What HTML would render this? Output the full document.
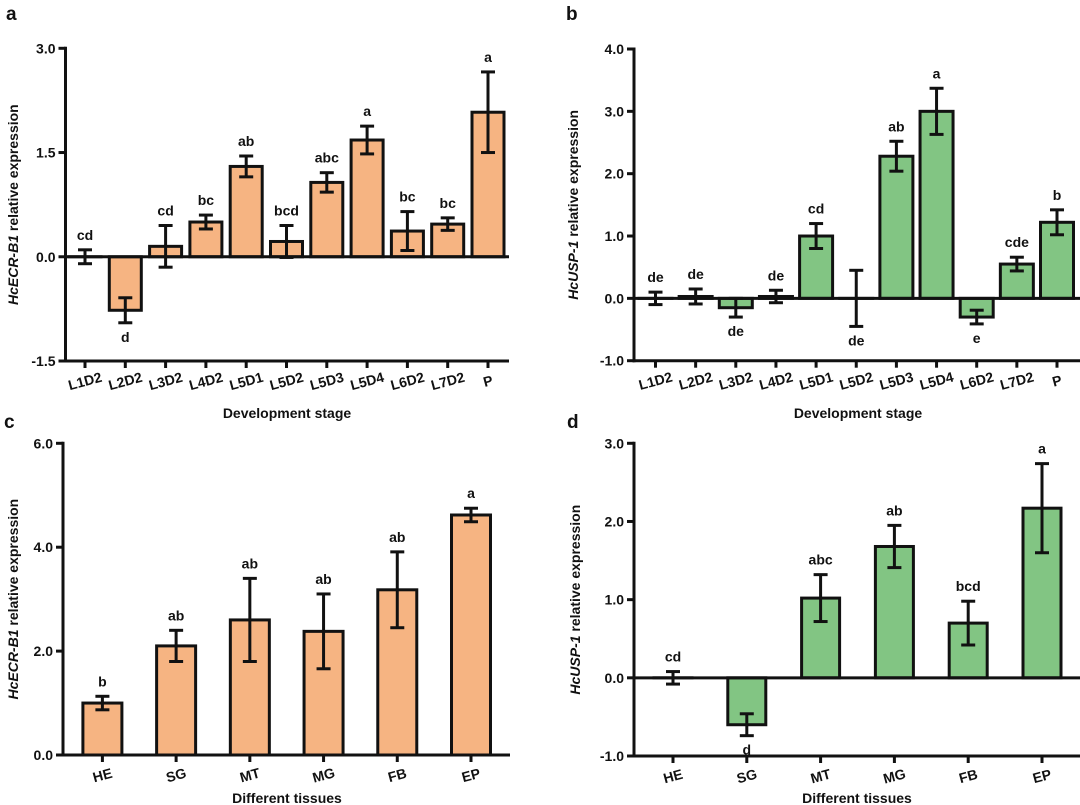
<!DOCTYPE html>
<html><head><meta charset="utf-8">
<style>
html,body{margin:0;padding:0;background:#fff;}
svg{display:block;font-family:"Liberation Sans",Arial,sans-serif;}
</style></head>
<body>
<svg id="fig" width="1080" height="805" viewBox="0 0 1080 805"></svg>
<script>
// ---- data ----
const stagesCats = ["L1D2","L2D2","L3D2","L4D2","L5D1","L5D2","L5D3","L5D4","L6D2","L7D2","P"];
const aValues = [0, -0.77, 0.15, 0.5, 1.3, 0.22, 1.07, 1.68, 0.37, 0.47, 2.08];
const aErrors = [0.1, 0.18, 0.3, 0.1, 0.15, 0.23, 0.14, 0.2, 0.28, 0.09, 0.58];
const aLetters = ["cd","d","cd","bc","ab","bcd","abc","a","bc","bc","a"];
const aBelow = [false,true,false,false,false,false,false,false,false,false,false];
const aTicks = [3.0, 1.5, 0.0, -1.5];

const bValues = [0, 0.03, -0.15, 0.03, 1.0, 0, 2.28, 3.0, -0.3, 0.55, 1.22];
const bErrors = [0.1, 0.12, 0.15, 0.1, 0.2, 0.45, 0.24, 0.37, 0.11, 0.11, 0.2];
const bLetters = ["de","de","de","de","cd","de","ab","a","e","cde","b"];
const bBelow = [false,false,true,false,false,true,false,false,true,false,false];
const bTicks = [4.0, 3.0, 2.0, 1.0, 0.0, -1.0];

const tissueCats = ["HE","SG","MT","MG","FB","EP"];
const cValues = [1.0, 2.1, 2.6, 2.38, 3.18, 4.62];
const cErrors = [0.13, 0.3, 0.8, 0.72, 0.73, 0.13];
const cLetters = ["b","ab","ab","ab","ab","a"];
const cBelow = [false,false,false,false,false,false];
const cTicks = [6.0, 4.0, 2.0, 0.0];

const dValues = [0, -0.6, 1.02, 1.68, 0.7, 2.17];
const dErrors = [0.08, 0.14, 0.3, 0.27, 0.28, 0.57];
const dLetters = ["cd","d","abc","ab","bcd","a"];
const dBelow = [false,true,false,false,false,false];
const dTicks = [3.0, 2.0, 1.0, 0.0, -1.0];

const NS = "http://www.w3.org/2000/svg";
const svg = document.getElementById('fig');
function mk(tag, attrs, parent, text){
  const e = document.createElementNS(NS, tag);
  for (const k in attrs) e.setAttribute(k, attrs[k]);
  if (text !== undefined) e.textContent = text;
  (parent||svg).appendChild(e);
  return e;
}

function panel(cfg){
  const g = mk('g', {});
  
  
  const vmin = cfg.ticks[cfg.ticks.length-1], vmax = cfg.ticks[0];
  const y = v => cfg.yBot + (v - vmin) * (cfg.yTop - cfg.yBot) / (vmax - vmin);
  const n = cfg.cats.length;
  const x = i => cfg.x0 + i * (cfg.x1 - cfg.x0) / (n - 1);
  cfg.values.forEach((v,i)=>{
    const top = Math.min(y(v), y(0)), h = Math.abs(y(v)-y(0));
    const r = mk('rect', {x:x(i)-cfg.bw/2, y:top, width:cfg.bw, height:Math.max(h,0.01), fill:cfg.color, stroke:'#111', 'stroke-width':3}, g);
    
    
  });
  const zl = mk('line', {x1:cfg.axX, x2:cfg.axEnd, y1:y(0), y2:y(0), stroke:'#111','stroke-width':3}, g);
  
  
  cfg.values.forEach((v,i)=>{
    const e = cfg.errors[i], hi = y(v+e), lo = y(v-e), cx = x(i);
    const eg = mk('g', {stroke:'#111','stroke-width':3}, g);
    
    
    mk('line', {x1:cx, x2:cx, y1:hi, y2:lo}, eg);
    mk('line', {x1:cx-7, x2:cx+7, y1:hi, y2:hi}, eg);
    mk('line', {x1:cx-7, x2:cx+7, y1:lo, y2:lo}, eg);
    const ly = cfg.below[i] ? lo + 19 : hi - 10;
    const t = mk('text', {x:cx, y:ly, 'text-anchor':'middle','font-size':14,'font-weight':'bold',fill:'#111'}, g, cfg.letters[i]);
    
    
  });
  const xa = mk('line', {x1:cfg.axX-1.5, x2:cfg.axEnd, y1:cfg.yBot, y2:cfg.yBot, stroke:'#111','stroke-width':3}, g);
  
  
  const ya = mk('line', {x1:cfg.axX, x2:cfg.axX, y1:cfg.yTop-1.5, y2:cfg.yBot+1.5, stroke:'#111','stroke-width':3}, g);
  
  
  cfg.ticks.forEach(tv=>{
    mk('line', {x1:cfg.axX-7, x2:cfg.axX, y1:y(tv), y2:y(tv), stroke:'#111','stroke-width':3}, g);
    const t = mk('text', {x:cfg.axX-10, y:y(tv)+5, 'text-anchor':'end','font-size':14,'font-weight':'bold',fill:'#111'}, g, tv.toFixed(1));
    
    
  });
  cfg.cats.forEach((c,i)=>{
    const cx = x(i);
    mk('line', {x1:cx, x2:cx, y1:cfg.yBot, y2:cfg.yBot+7, stroke:'#111','stroke-width':3}, g);
    const t = mk('text', {x:cx, y:cfg.yBot+25, 'text-anchor':'middle','font-size':14,'font-weight':'bold',fill:'#111',
      transform:`rotate(-15 ${cx} ${cfg.yBot+20})`}, g, c);
    
    
  });
  const xt = mk('text', {x:cfg.xTitleX, y:cfg.xTitleY, 'text-anchor':'middle','font-size':14,'font-weight':'bold',fill:'#111'}, g, cfg.xTitle);
  
  
  const yc = (cfg.yTop + cfg.yBot)/2;
  const yt = mk('text', {x:cfg.yTitleX, y:yc, 'text-anchor':'middle','font-size':14,'font-weight':'bold',fill:'#111',
    transform:`rotate(-90 ${cfg.yTitleX} ${yc})`}, g);
  
  
  mk('tspan', {'font-style':'italic'}, yt, cfg.gene);
  mk('tspan', {}, yt, ' relative expression');
  const pl = mk('text', {x:cfg.letterX, y:cfg.letterY, 'font-size':19,'font-weight':'bold',fill:'#111'}, g, cfg.letter);
  
  
}

const ORANGE = '#f6b482', GREEN = '#82c583';
panel({name:'panel-a', cats:stagesCats, values:aValues, errors:aErrors, letters:aLetters, below:aBelow, ticks:aTicks,
  yTop:48.3, yBot:361, axX:65.5, axEnd:509, x0:85, x1:488, bw:32, color:ORANGE,
  xTitle:'Development stage', xTitleX:287, xTitleY:418, gene:'HcECR-B1', yTitleX:18, letter:'a', letterX:6, letterY:20});
panel({name:'panel-b', cats:stagesCats, values:bValues, errors:bErrors, letters:bLetters, below:bBelow, ticks:bTicks,
  yTop:49, yBot:360.7, axX:634, axEnd:1080, x0:655.5, x1:1057, bw:33, color:GREEN,
  xTitle:'Development stage', xTitleX:858, xTitleY:418, gene:'HcUSP-1', yTitleX:578, letter:'b', letterX:566, letterY:20});
panel({name:'panel-c', cats:tissueCats, values:cValues, errors:cErrors, letters:cLetters, below:cBelow, ticks:cTicks,
  yTop:443.3, yBot:755, axX:63, axEnd:510, x0:102.4, x1:471, bw:39, color:ORANGE,
  xTitle:'Different tissues', xTitleX:287, xTitleY:803, gene:'HcECR-B1', yTitleX:18, letter:'c', letterX:4, letterY:428});
panel({name:'panel-d', cats:tissueCats, values:dValues, errors:dErrors, letters:dLetters, below:dBelow, ticks:dTicks,
  yTop:443.3, yBot:756, axX:634, axEnd:1080, x0:673, x1:1042, bw:38, color:GREEN,
  xTitle:'Different tissues', xTitleX:857, xTitleY:803, gene:'HcUSP-1', yTitleX:580, letter:'d', letterX:567, letterY:428});
</script>
</body></html>
